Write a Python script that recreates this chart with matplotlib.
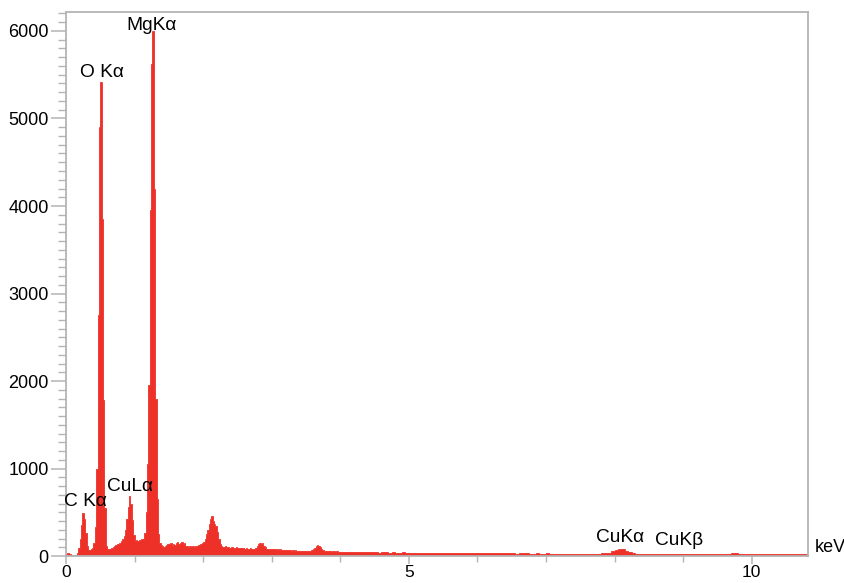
import matplotlib
matplotlib.use("Agg")
import matplotlib.pyplot as plt
from matplotlib.ticker import MultipleLocator
import numpy as np

# EDS spectrum, counts per channel
# 0.00 - 4.00 keV, 0.02 keV channels
low_step = 0.02
low_counts = [
    25, 30, 28, 20, 8, 5, 8, 15, 40, 90,
    200, 360, 495, 420, 260, 120, 70, 65, 80, 95,
    150, 330, 1000, 2750, 4900, 5420, 3850, 1780, 550, 110,
    75, 80, 85, 95, 100, 115, 130, 135, 140, 150,
    175, 200, 230, 300, 420, 560, 685, 600, 410, 240,
    175, 180, 170, 185, 180, 190, 200, 260, 500, 1050,
    1950, 3950, 5620, 6000, 4200, 1800, 650, 250, 150, 130,
    110, 105, 115, 130, 140, 135, 150, 125, 140, 130,
    145, 160, 140, 150, 165, 140, 150, 120, 110, 105,
    115, 100, 110, 105, 120, 115, 125, 130, 140, 150,
    165, 200, 250, 300, 370, 420, 460, 400, 370, 340,
    280, 200, 140, 110, 105, 100, 110, 105, 100, 95,
    100, 105, 95, 90, 100, 95, 90, 95, 88, 92,
    85, 90, 85, 80, 88, 82, 85, 80, 90, 110,
    135, 145, 140, 145, 120, 100, 85, 80, 85, 78,
    82, 75, 80, 72, 78, 70, 75, 68, 72, 70,
    65, 70, 66, 68, 62, 66, 60, 64, 62, 58,
    62, 60, 57, 60, 58, 62, 60, 58, 62, 65,
    75, 95, 115, 125, 120, 100, 80, 65, 58, 55,
    58, 52, 55, 50, 55, 52, 48, 52, 50, 48,
]
# 4.00 - 10.80 keV, 0.05 keV channels
high_step = 0.05
high_counts = [
    48, 45, 47, 44, 46, 42, 45, 43, 41, 44, 42, 40, 43, 41, 39, 42, 40, 38, 41, 39,
    38, 40, 37, 39, 36, 38, 40, 37, 35, 38, 36, 34, 37, 35, 33, 36, 34, 32, 35, 33,
    32, 34, 31, 33, 30, 32, 34, 31, 29, 32, 30, 28, 31, 29, 30, 28, 27, 30, 28, 27,
    29, 27, 26, 28, 26, 25, 27, 25, 26, 24, 26, 25, 27, 26, 28, 27, 29, 30,
    38, 52, 70, 80, 78, 62, 42, 32,
    28, 26, 27, 25, 26, 24, 25, 23, 25, 24, 26, 25, 27, 26,
    25, 24, 23, 25, 22, 24, 23, 22, 24, 23, 25, 24, 22, 26, 30, 32, 28, 24, 22, 23,
    22, 21, 23, 20, 22, 21, 19, 21, 20, 22, 19, 20, 21, 19, 20, 18,
]

peak_labels = ["MgK\u03b1", "O K\u03b1", "C K\u03b1", "CuL\u03b1", "CuK\u03b1", "CuK\u03b2"]
peak_x = [1.25, 0.53, 0.29, 0.94, 8.08, 8.94]
peak_y = [6060, 5530, 620, 800, 215, 175]

low_edges = np.arange(len(low_counts) + 1) * low_step
high_edges = low_edges[-1] + np.arange(1, len(high_counts) + 1) * high_step
edges = np.concatenate([low_edges, high_edges])
counts = np.array(low_counts + high_counts)

plt.rcParams['font.family'] = ['Liberation Sans', 'DejaVu Sans']

fig = plt.figure(figsize=(8.45, 5.83), dpi=100)
ax = fig.add_axes([0.0781, 0.0463, 0.878, 0.9331])

red = '#ee3128'
ax.stairs(counts, edges, fill=True, facecolor=red, edgecolor=red, linewidth=0.6)

for lab, x, y in zip(peak_labels, peak_x, peak_y):
    ax.text(x, y, lab, ha='center', va='center', fontsize=13.8)
ax.text(11.14, 100, "keV", ha='center', va='center', fontsize=13, clip_on=False)

ax.set_xlim(0, 10.82)
ax.set_ylim(0, 6217)
ax.xaxis.set_major_locator(MultipleLocator(5))
ax.xaxis.set_minor_locator(MultipleLocator(1))
ax.yaxis.set_major_locator(MultipleLocator(1000))
ax.yaxis.set_minor_locator(MultipleLocator(100))

grey = '#b4b4b4'
for s in ax.spines.values():
    s.set_color(grey)
    s.set_linewidth(1.3)
ax.tick_params(axis='y', which='major', length=11, width=1.1, color=grey, pad=1.5, labelsize=13)
ax.tick_params(axis='y', which='minor', length=6, width=1.0, color=grey)
ax.tick_params(axis='x', which='major', length=6, width=1.1, color=grey, pad=0.5, labelsize=12.5)
ax.tick_params(axis='x', which='minor', length=4, width=1.0, color=grey)

fig.savefig("out.png", dpi=100)
